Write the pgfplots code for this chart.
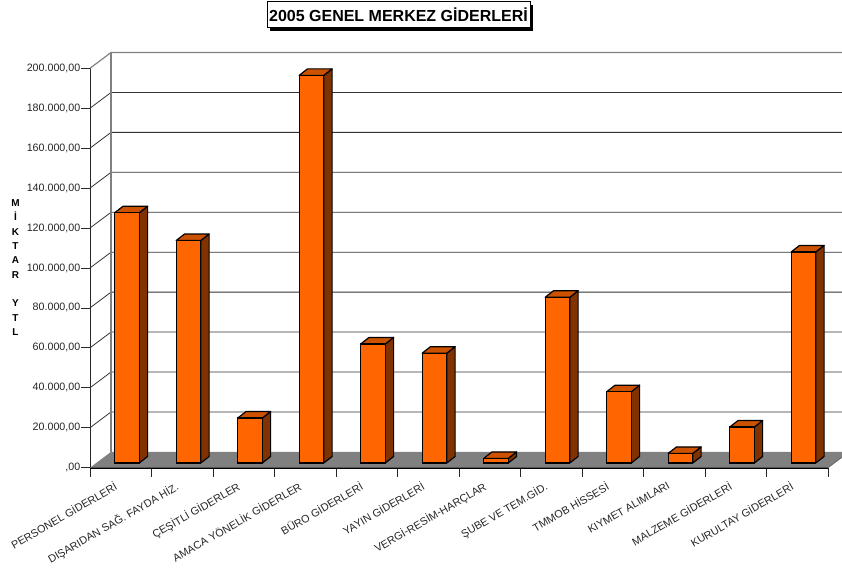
\documentclass[border=0pt]{standalone}
\usepackage{fontspec}
\setmainfont{Liberation Sans}
\usepackage{pgfplots}
\usepackage{pgfplotstable}
\pgfplotsset{compat=1.18}
\usetikzlibrary{shadows}
\definecolor{barfront}{HTML}{FF6600}
\definecolor{bartop}{HTML}{CC5200}
\definecolor{barside}{HTML}{803300}
\definecolor{floorc}{HTML}{808080}
\pgfplotstableread{
x v
0.5 125.3
1.5 111.4
2.5 22.5
3.5 194.1
4.5 59.6
5.5 55.0
6.5 2.3
7.5 83.0
8.5 35.7
9.5 4.8
10.5 18.0
11.5 105.7
}\datatable
% depth of the walls and of the bars, in axis units (1 = one category, y in thousands)
\def\wdx{0.3415}
\def\wdy{7.91}
\begin{document}
\begin{tikzpicture}[x=1bp,y=1bp]
\useasboundingbox (0,0) rectangle (842,573);
\begin{axis}[
  at={(90bp,105.3bp)}, anchor=origin,
  scale only axis, width=738bp, height=399.4bp,
  xmin=0, xmax=12, ymin=0, ymax=200,
  clip=false,
  axis x line*=bottom, axis y line*=left,
  axis line style={-, line width=0.9bp, black!85},
  x axis line style={line width=1.8bp, black},
  tick align=outside, major tick length=9bp,
  tick style={line width=0.8bp, black!85},
  xtick={0,1,...,12},
  x tick label as interval,
  xticklabels={PERSONEL GİDERLERİ,DIŞARIDAN SAĞ. FAYDA HİZ.,ÇEŞİTLİ GİDERLER,AMACA YÖNELİK GİDERLER,BÜRO GİDERLERİ,YAYIN GİDERLERİ,VERGİ-RESİM-HARÇLAR,ŞUBE VE TEM.GİD.,TMMOB HİSSESİ,KIYMET ALIMLARI,MALZEME GİDERLERİ,KURULTAY GİDERLERİ},
  xticklabel style={rotate=30, anchor=north east, inner sep=0pt, xshift=-8.5bp, yshift=0bp, font=\fontsize{10.8bp}{12bp}\selectfont, text=black!85},
  ytick={0,20,...,200},
  yticklabels={{,00},{20.000,00},{40.000,00},{60.000,00},{80.000,00},{100.000,00},{120.000,00},{140.000,00},{160.000,00},{180.000,00},{200.000,00}},
  yticklabel style={inner sep=0pt, xshift=-0.5bp, font=\fontsize{10.7bp}{12bp}\selectfont, text=black!85},
  ylabel={M\\İ\\K\\T\\A\\R\\[14.3bp]Y\\T\\L},
  ylabel style={rotate=-90, at={(axis description cs:-0.101,0.501)}, anchor=center, align=center, inner sep=0pt, font=\fontsize{10bp}{14.3bp}\selectfont\bfseries},
  title={2005 GENEL MERKEZ GİDERLERİ},
  title style={at={(axis description cs:0.418,1.119)}, anchor=center, draw=black, line width=0.8bp, fill=white, minimum width=263bp, minimum height=26bp, inner sep=0pt, font=\fontsize{16bp}{18bp}\selectfont\bfseries, drop shadow={shadow xshift=3bp, shadow yshift=-3bp, fill=black, opacity=1}},
]
% floor
\addplot[fill=floorc, draw=none] coordinates {(0,0) (0.3415,7.91) (12.3415,7.91) (12,0)} -- cycle;
% side-wall and back-wall grid lines
\pgfplotsinvokeforeach{20,40,...,180}{
  \pgfmathsetmacro\gy{#1+\wdy}
  \addplot[line width=0.8bp, black!80] coordinates {(0,#1) (\wdx,\gy) (12.3415,\gy)};
}
\addplot[line width=1.2bp, black!50] coordinates {(0,200) (0.3415,207.91) (12.3415,207.91)};
\addplot[line width=1.1bp, black!50] coordinates {(0.3415,7.91) (0.3415,207.91)};
\addplot[line width=0.8bp, black!60] coordinates {(12,0) (12.3415,7.91)};
% side and top faces of the bars
\pgfplotsinvokeforeach{0,...,11}{
  \pgfplotstablegetelem{#1}{x}\of\datatable \let\bx\pgfplotsretval
  \pgfplotstablegetelem{#1}{v}\of\datatable \let\bv\pgfplotsretval
  \pgfmathsetmacro\xl{\bx-0.0984}
  \pgfmathsetmacro\xr{\bx+0.3016}
  \pgfmathsetmacro\xlb{\xl+0.135}
  \pgfmathsetmacro\xrb{\xr+0.135}
  \pgfmathsetmacro\yb{2.354}
  \pgfmathsetmacro\ybb{2.354+3.255}
  \pgfmathsetmacro\yt{\bv+2.354}
  \pgfmathsetmacro\ytb{\yt+3.255}
  \addplot[fill=barside, draw=black, line width=1.2bp, line join=round] coordinates {(\xr,\yb) (\xrb,\ybb) (\xrb,\ytb) (\xr,\yt)} -- cycle;
  \addplot[fill=bartop, draw=black, line width=1.2bp, line join=round] coordinates {(\xl,\yt) (\xlb,\ytb) (\xrb,\ytb) (\xr,\yt)} -- cycle;
}
% front faces
\addplot[ybar, bar width=24.6bp, bar shift=0pt, xshift=6.25bp, yshift=4.7bp, fill=barfront, draw=black, line width=1.2bp] table[x=x, y=v] {\datatable};
\end{axis}
\end{tikzpicture}
\end{document}
